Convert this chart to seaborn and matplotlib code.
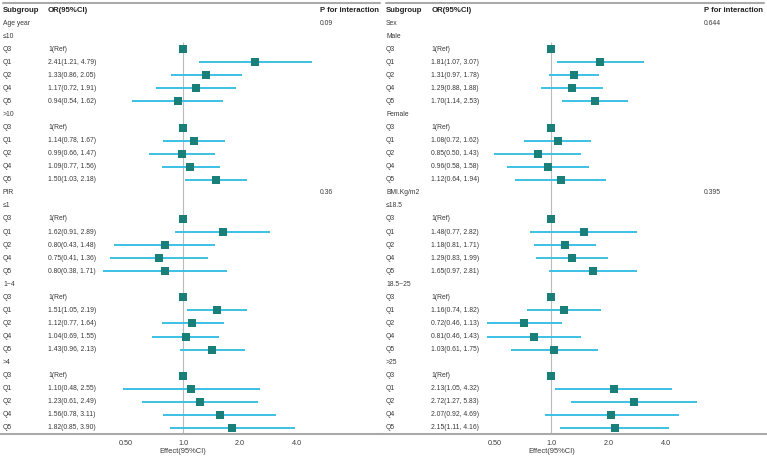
import numpy as np
import pandas as pd
import matplotlib
matplotlib.use("Agg")
import matplotlib.pyplot as plt
import matplotlib.transforms as mtransforms
import seaborn as sns

# ---------------------------------------------------------------- data
left_var = ["Age year", "PIR"]
left_pval = ["0.09", "0.36"]
left_groups = [["≤10", ">10"], ["≤1", "1~4", ">4"]]
quint = ["Q3", "Q1", "Q2", "Q4", "Q5"]

left_or = [1, 2.41, 1.33, 1.17, 0.94,
           1, 1.14, 0.99, 1.09, 1.50,
           1, 1.62, 0.80, 0.75, 0.80,
           1, 1.51, 1.12, 1.04, 1.43,
           1, 1.10, 1.23, 1.56, 1.82]
left_lo = [np.nan, 1.21, 0.86, 0.72, 0.54,
           np.nan, 0.78, 0.66, 0.77, 1.03,
           np.nan, 0.91, 0.43, 0.41, 0.38,
           np.nan, 1.05, 0.77, 0.69, 0.96,
           np.nan, 0.48, 0.61, 0.78, 0.85]
left_hi = [np.nan, 4.79, 2.05, 1.91, 1.62,
           np.nan, 1.67, 1.47, 1.56, 2.18,
           np.nan, 2.89, 1.48, 1.36, 1.71,
           np.nan, 2.19, 1.64, 1.55, 2.13,
           np.nan, 2.55, 2.49, 3.11, 3.90]

right_var = ["Sex", "BMI.Kg/m2"]
right_pval = ["0.644", "0.395"]
right_groups = [["Male", "Female"], ["≤18.5", "18.5~25", ">25"]]

right_or = [1, 1.81, 1.31, 1.29, 1.70,
            1, 1.08, 0.85, 0.96, 1.12,
            1, 1.48, 1.18, 1.29, 1.65,
            1, 1.16, 0.72, 0.81, 1.03,
            1, 2.13, 2.72, 2.07, 2.15]
right_lo = [np.nan, 1.07, 0.97, 0.88, 1.14,
            np.nan, 0.72, 0.50, 0.58, 0.64,
            np.nan, 0.77, 0.81, 0.83, 0.97,
            np.nan, 0.74, 0.46, 0.46, 0.61,
            np.nan, 1.05, 1.27, 0.92, 1.11]
right_hi = [np.nan, 3.07, 1.78, 1.88, 2.53,
            np.nan, 1.62, 1.43, 1.58, 1.94,
            np.nan, 2.82, 1.71, 1.99, 2.81,
            np.nan, 1.82, 1.13, 1.43, 1.75,
            np.nan, 4.32, 5.83, 4.69, 4.16]

xticks = [0.5, 1.0, 2.0, 4.0]
xticklabels = ["0.50", "1.0", "2.0", "4.0"]

# ---------------------------------------------------------------- style
sns.set_style("white")
plt.rcParams["font.family"] = ["Liberation Sans", "DejaVu Sans"]

W, H = 767, 457
ROW0, ROWSTEP = 10, 13.06        # pixel y of header row, row spacing
AXLINE_PX = 434
BOX_C = "#1b7f79"
CI_C = "#3cc0e3"
TXT_C = "#3a3a3a"
GREY = "#aaaaaa"


def px2row(py):
    return (py - ROW0) / ROWSTEP


def build_table(varList, pList, groupList, orList, loList, hiList):
    rows = []
    k = 0
    for (var, p, groups) in zip(varList, pList, groupList):
        rows.append(dict(label=var, est=np.nan, lo=np.nan, hi=np.nan, txt="", p=p))
        for g in groups:
            rows.append(dict(label=g, est=np.nan, lo=np.nan, hi=np.nan, txt="", p=""))
            for q in quint:
                est, lo, hi = orList[k], loList[k], hiList[k]
                txt = "1(Ref)" if np.isnan(lo) else "{:.2f}({:.2f}, {:.2f})".format(est, lo, hi)
                rows.append(dict(label=q, est=est, lo=lo, hi=hi, txt=txt, p=""))
                k += 1
    df = pd.DataFrame(rows)
    df["row"] = np.arange(len(df)) + 1
    return df


def draw_panel(ax, df, x_one_px):
    panel_px = 383.0
    per_dbl = 57.0
    lo_l = -x_one_px / per_dbl
    hi_l = (panel_px - x_one_px) / per_dbl
    ax.set_xscale("log", base=2)
    ax.set_xlim(2 ** lo_l, 2 ** hi_l)
    ax.set_ylim(px2row(H), px2row(0))

    trans = mtransforms.blended_transform_factory(ax.transAxes, ax.transData)
    xs, xo, xp = 3 / panel_px, 48 / panel_px, 320 / panel_px

    # header
    hdr = dict(transform=trans, fontsize=5.6, fontweight="bold", va="center", color="#222222")
    ax.text(xs, 0, "Subgroup", **hdr)
    ax.text(xo, 0, "OR(95%CI)", **hdr)
    ax.text(xp, 0, "P for interaction", **hdr)
    ax.plot([3 / panel_px, 380 / panel_px], [px2row(3), px2row(3)], transform=trans,
            color=GREY, lw=1.5, clip_on=False)

    body = dict(transform=trans, fontsize=4.85, va="center", color=TXT_C)
    for (_, r) in df.iterrows():
        ax.text(xs, r["row"], r["label"], **body)
        if r["txt"]:
            ax.text(xo, r["row"], r["txt"], **body)
        if r["p"]:
            ax.text(xp, r["row"], r["p"], **body)

    # reference line
    ax.vlines(1.0, px2row(42), px2row(AXLINE_PX), color="#bbbbbb", lw=0.8, zorder=1)

    ci = df[df["lo"].notna()]
    ax.hlines(ci["row"], ci["lo"], ci["hi"], color=CI_C, lw=1.4, zorder=2)
    sns.scatterplot(data=df[df["est"].notna()], x="est", y="row", ax=ax, marker="s",
                    s=26, color=BOX_C, edgecolor=BOX_C, linewidth=0, zorder=3, legend=False)

    # axis
    for side in ["top", "right", "left"]:
        ax.spines[side].set_visible(False)
    ax.spines["bottom"].set_position(("data", px2row(AXLINE_PX)))
    ax.spines["bottom"].set_color(GREY)
    ax.spines["bottom"].set_linewidth(1.5)
    ax.set_yticks([])
    ax.set_xticks(xticks)
    ax.set_xticklabels(xticklabels)
    ax.minorticks_off()
    ax.tick_params(axis="x", direction="in", length=3, width=0.8, color="#777777",
                   labelsize=5.2, labelcolor=TXT_C, pad=4)
    ax.set_xlabel("")
    ax.set_ylabel("")
    ax.text(1.0, px2row(452), "Effect(95%CI)", ha="center", va="center",
            fontsize=5.4, color=TXT_C)


fig = plt.figure(figsize=(W / 100, H / 100), dpi=100)
axL = fig.add_axes([0, 0, 383 / W, 1])
axR = fig.add_axes([383 / W, 0, 384 / W, 1])

dfL = build_table(left_var, left_pval, left_groups, left_or, left_lo, left_hi)
dfR = build_table(right_var, right_pval, right_groups, right_or, right_lo, right_hi)

draw_panel(axL, dfL, 183)
draw_panel(axR, dfR, 168)

fig.savefig("out.png", dpi=100)
plt.close(fig)
